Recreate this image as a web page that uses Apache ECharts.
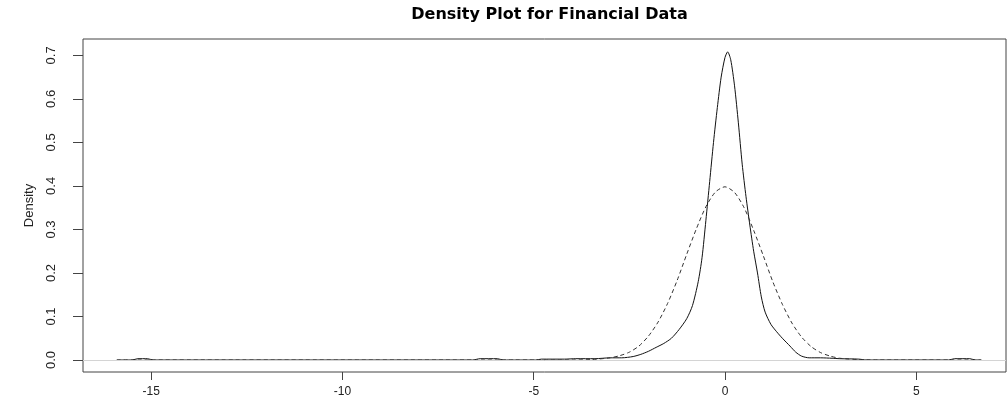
<!DOCTYPE html>
<html>
<head>
<meta charset="utf-8">
<script src="https://cdn.jsdelivr.net/npm/echarts@6/dist/echarts.min.js"></script>
<style>
  html, body { margin: 0; padding: 0; background: #fff; }
  #chart { width: 1007px; height: 405px; }
</style>
</head>
<body>
<div id="chart"></div>
<script>
// Kernel density estimate of the returns (solid line)
const densityX = [-15.9, -15.5, -15.35, -15.1, -14.95, -6.6, -6.4, -5.95, -5.8, -4.95, -4.8, -4.2, -3.9, -3.4,
  -3.0, -2.7, -2.4, -2.2, -2.0, -1.8, -1.6, -1.4, -1.2, -1.0, -0.85, -0.7, -0.6, -0.5, -0.4, -0.3, -0.2, -0.1,
  0.0, 0.07, 0.15, 0.25, 0.35, 0.45, 0.55, 0.65, 0.75, 0.85, 0.95, 1.05, 1.2, 1.35, 1.5, 1.7, 1.85, 2.0,
  2.2, 2.5, 2.8, 3.0, 3.5, 3.7, 5.85, 6.0, 6.4, 6.55, 6.7];
const densityY = [0, 0, 0.003, 0.003, 0, 0, 0.003, 0.003, 0, 0, 0.002, 0.002, 0.003, 0.003,
  0.005, 0.005, 0.008, 0.013, 0.02, 0.029, 0.038, 0.05, 0.07, 0.095, 0.125, 0.18, 0.235, 0.32, 0.41, 0.5, 0.58, 0.65,
  0.695, 0.708, 0.69, 0.63, 0.545, 0.45, 0.375, 0.31, 0.25, 0.2, 0.145, 0.11, 0.082, 0.065, 0.05, 0.032, 0.018, 0.009,
  0.005, 0.005, 0.004, 0.003, 0.002, 0, 0, 0.003, 0.003, 0, 0];

// Normal reference density (dashed line)
const normalX = [-15.9, -4.0, -3.5, -3.0, -2.75, -2.5, -2.25, -2.0, -1.75, -1.5, -1.25, -1.0, -0.75, -0.5, -0.25,
  0.0, 0.25, 0.5, 0.75, 1.0, 1.25, 1.5, 1.75, 2.0, 2.25, 2.5, 2.75, 3.0, 3.5, 4.0, 6.7];
const normalY = [0, 0, 0.001, 0.005, 0.01, 0.018, 0.032, 0.055, 0.087, 0.13, 0.183, 0.243, 0.301, 0.352, 0.386,
  0.398, 0.385, 0.35, 0.298, 0.24, 0.18, 0.128, 0.085, 0.053, 0.031, 0.017, 0.009, 0.004, 0.001, 0, 0];

// Axis ticks
const xTicks = [-15, -10, -5, 0, 5];
const yTicks = [0.0, 0.1, 0.2, 0.3, 0.4, 0.5, 0.6, 0.7];

const pairs = (xs, ys) => xs.map((x, i) => [x, ys[i]]);

const chart = echarts.init(document.getElementById('chart'), null, { renderer: 'canvas' });

const sans = 'Liberation Sans, Arial, sans-serif';

chart.setOption({
  animation: false,
  backgroundColor: '#ffffff',
  title: {
    text: 'Density Plot for Financial Data',
    left: 544.5,
    textAlign: 'center',
    top: 2,
    textStyle: { fontFamily: 'DejaVu Sans, sans-serif', fontSize: 16, fontWeight: 'bold', color: '#000' }
  },
  grid: {
    show: true,
    left: 83, right: 1, top: 39, bottom: 33,
    borderColor: '#444', borderWidth: 1,
    backgroundColor: 'transparent'
  },
  xAxis: {
    type: 'value',
    min: -16.784, max: 7.347,
    axisLine: { show: false, onZero: false },
    splitLine: { show: false },
    axisTick: { show: true, length: 8, lineStyle: { color: '#444' }, customValues: xTicks },
    axisLabel: { margin: 14, customValues: xTicks, formatter: v => String(v),
      fontFamily: sans, fontSize: 12, color: '#222' }
  },
  yAxis: {
    type: 'value',
    min: -0.02757, max: 0.7376,
    name: 'Density',
    nameLocation: 'middle',
    nameGap: 47,
    nameTextStyle: { fontFamily: sans, fontSize: 13, color: '#222' },
    axisLine: { show: false, onZero: false },
    splitLine: { show: false },
    axisTick: { show: true, length: 10, lineStyle: { color: '#444' }, customValues: yTicks },
    axisLabel: { rotate: 90, margin: 25, customValues: yTicks, formatter: v => v.toFixed(1),
      fontFamily: sans, fontSize: 13, color: '#222' }
  },
  series: [
    {
      name: 'density',
      type: 'line',
      data: pairs(densityX, densityY),
      showSymbol: false,
      smooth: 0.25,
      z: 2,
      lineStyle: { color: '#111', width: 1 }
    },
    {
      name: 'zero',
      type: 'line',
      data: [],
      z: 3,
      markLine: {
        silent: true,
        symbol: 'none',
        label: { show: false },
        lineStyle: { color: '#d4d4d4', width: 1, type: 'solid' },
        data: [{ yAxis: 0 }]
      }
    },
    {
      name: 'normal',
      type: 'line',
      data: pairs(normalX, normalY),
      showSymbol: false,
      smooth: 0.25,
      z: 4,
      lineStyle: { color: '#333', width: 1, type: [4, 3] }
    }
  ]
});
</script>
</body>
</html>
